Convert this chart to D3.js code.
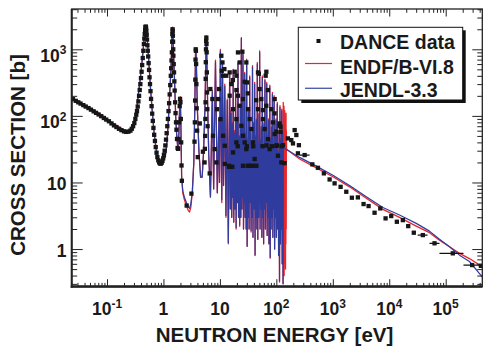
<!DOCTYPE html>
<html><head><meta charset="utf-8">
<script src="https://cdn.jsdelivr.net/npm/d3@7"></script>
<style>
body{margin:0;background:#fff}
svg{display:block}
text{font-family:"Liberation Sans",Arial,Helvetica,sans-serif;font-weight:bold;fill:#1a1a1a}
</style>
</head><body>
<svg id="chart" width="483" height="347"></svg>
<script>
// ---------- evaluated cross sections (ENDF/B-VI.8, JENDL-3.3), low-energy part ----------
const lowE = [0.024,0.03,0.04,0.05,0.065,0.08,0.1,0.125,0.15,0.18,
  0.21,0.235,0.26,0.285,0.31,0.335,0.36,0.385,0.41,0.435,
  0.455,0.47,0.485,0.5,0.515,0.535,0.56,0.59,0.63,0.68,
  0.74,0.8,0.87,0.93,1.0,1.07,1.13,1.19,1.25,1.3,
  1.35,1.39,1.42,1.445,1.47,1.5,1.54,1.59,1.65,1.72,
  1.8,1.88,1.94,1.98,2.03,2.1,2.2,2.35,2.55,2.75,
  2.9,3.05,3.25,3.45,3.6,3.7,3.76,3.85,4.0,4.25,
  4.55,4.85,5.15,5.45,5.65,5.75,5.85,6.05,6.35,6.8];
const endfLow = [187,167,146,131,115,104,89,79,71,65,
  60.5,59,60,67,84,118,215,340,560,950,
  1500,2000,2250,2000,1500,950,520,260,125,58,
  32,23,19.5,19.8,22,24,33,60,125,250,
  450,900,1600,2150,1850,1100,560,260,95,50,
  32,55,150,195,90,12,7,5.5,4.5,3.8,
  3.6,4.2,7,20,150,900,1050,500,120,30,
  12,12,30,150,800,1600,900,170,25,6];
const jendlLow = [181,162,142,127,112,101,87,77,69.5,63.5,
  59,57.5,59,66,83,116,210,335,550,930,
  1450,1930,2150,1930,1450,930,510,255,123,58,
  32,23,19.5,19.8,22,24,33,60,122,245,
  440,880,1550,2080,1800,1080,550,255,95,50,
  33,55,145,188,88,12.5,7.5,6,5,4.3,
  4.1,4.7,7.5,20,145,870,1010,490,118,30,
  12,12,30,145,780,1550,880,168,25,6.2];

// ---------- resolved resonance region (peak / valley sequence) ----------
const resE = [7.35,7.75,8.35,9.0,9.6,9.85,10.2,10.8,11.1,11.6,
  12.2,12.8,13.5,14.1,14.9,15.3,15.8,16.2,16.7,17.0,
  17.2,17.6,18.0,18.5,19.0,19.4,19.9,20.4,20.9,21.4,
  21.9,22.4,23.0,23.5,24.0,24.5,25.0,25.3,25.6,26.2,
  26.8,27.2,27.5,28.0,28.6,29.2,29.8,30.4,31.0,31.5,
  32.2,32.9,33.7,34.4,35.0,35.7,36.4,37.1,37.8,38.6,
  39.3,40.0,40.6,40.9,41.3,42.0,42.8,43.6,44.4,45.2,
  46.0,46.9,47.7,48.5,49.4,50.0,50.6,51.5,52.4,53.4,
  54.4,55.4,56.4,57.4,58.4,59.5,60.6,61.7,62.8,64.0,
  65.2,66.4,67.6,68.8,70.0,71.3,72.6,73.9,75.2,75.8,
  76.5,77.9,79.3,80.7,82.2,83.7,85.2,86.7,88.3,89.9,
  91.5,93.2,94.9,96.6,98.4,100.2,102.0,103.0,103.9,105.8,
  107.7,109.7,111.7,113.8,115.9,118.0,120.2,122.4,124.6,126.9,
  129.2,131.5];
const resENDF = [240,8,690,7,90,10,1000,5,630,9,
  300,3,180,1.2,450,4,120,3,80,6,
  500,2.5,60,4,225,2,90,5,640,3,
  50,2.2,140,3,1450,4,40,6,950,2,
  70,5,450,3,55,2,713,1.1,45,3,
  120,2,400,5,60,1.8,35,3,570,1.5,
  80,4,30,6,318,0.8,50,3,90,2,
  635,1.4,40,3,110,5,950,2,45,4,
  70,1.5,400,3,35,1.2,80,4,357,2,
  40,5,318,1.6,50,3,90,1.2,30,5,
  290,0.73,45,2,70,3,225,1.5,35,4,
  201,1.0,50,3,90,1.5,40,4,159,2,
  30,0.8,60,0.32,142,1.2,45,2,126,0.6,
  60,0.3];
const resJENDL = [225,8,650,7,85,10,940,5.5,600,9,
  280,3.2,170,1.25,420,4,110,3,75,6,
  470,2.6,55,4,210,2.1,85,5,600,3,
  48,2.3,130,3,1500,4,38,6,900,2,
  66,5,430,3,52,2,680,1.1,42,3,
  112,2,380,5,56,1.9,33,3,540,1.5,
  75,4,28,6,300,0.82,47,3,85,2,
  600,1.4,38,3,104,5,900,2,42,4,
  66,1.5,380,3,33,1.2,75,4,340,2,
  38,5,300,1.6,47,3,85,1.2,28,5,
  275,0.75,42,2,66,3,212,1.5,33,4,
  190,1.0,47,3,85,1.5,38,4,150,2,
  28,0.8,56,0.33,134,1.2,42,2,118,0.6,
  56,0.3];

// ENDF resonances extend a little further
const endfBandE  = [132.5,133.5,134.5,135.5,136.5,137.5,138.5,139.5,140.5,141.5,142.5,143.5,144.5,145.5,146.5,147.5,148.5,149.5,150.5];
const endfBandXS = [160,0.5,90,0.8,140,0.4,60,1.0,120,0.6,50,0.9,100,0.5,70,1.2,110,2,60];

// ---------- unresolved / smooth region ----------
const endfSmoothE  = [152,258,511,1005,1982,3917,7710,15200,30060,51650,77600,116700,175400,263700,447500];
const endfSmoothXS = [31.5,22.5,16.6,12.2,8.6,5.8,3.94,2.99,2.21,1.76,1.36,1.08,0.86,0.72,0.54];
const jendlSmoothE  = [133,258,511,1005,1982,3917,7710,15200,30060,51650,77600,116700,175400,263700,447500];
const jendlSmoothXS = [33.5,23.8,17.6,12.8,9.0,6.1,4.2,3.24,2.43,1.86,1.40,1.08,0.81,0.65,0.38];

// ---------- DANCE data ----------
const danceLowE = [0.025,0.028,0.031,0.034,0.038,0.042,0.047,0.052,0.058,0.064,
  0.071,0.079,0.088,0.097,0.108,0.12,0.133,0.147,0.163,0.18,
  0.2,0.22,0.24,0.26,0.275,0.29,0.305,0.318,0.33,0.34,
  0.35,0.36,0.37,0.38,0.39,0.4,0.41,0.42,0.43,0.44,
  0.45,0.458,0.466,0.474,0.48,0.486,0.492,0.498,0.505,0.512,
  0.52,0.528,0.537,0.546,0.556,0.567,0.578,0.59,0.603,0.617,
  0.632,0.648,0.665,0.685,0.707,0.73,0.755,0.78,0.81,0.84,
  0.87,0.9,0.93,0.96,0.99,1.02,1.05,1.08,1.11,1.14,
  1.17,1.2,1.23,1.26,1.29,1.32,1.35,1.37,1.39,1.41,
  1.43,1.44,1.45,1.46,1.47,1.48,1.49,1.5,1.52,1.54,
  1.56,1.58,1.61,1.64,1.67,1.7,1.74,1.78,1.82,1.86,
  1.9,1.94,1.97,2.0,2.03,2.06,2.09,2.12,2.58,3.13,
  3.55,3.6,3.64,3.67,3.7,3.73,3.76,3.79,3.83,3.88,
  3.95,4.05,4.4,5.0,5.35,5.42,5.48,5.53,5.57,5.6,
  5.63,5.67,5.71,5.75,5.79,5.83,5.87,5.92,5.98,6.05,
  6.6];
const danceLowXS = [178,168,160,153,145,138,131,124,117,111,
  105,99,93,88,83,77,72,68,64,61,
  58.5,57.5,58,60,64,70,78,90,104,118,
  138,165,200,245,300,370,460,580,740,950,
  1200,1450,1700,1950,2150,2200,2100,1900,1650,1400,
  1150,950,780,620,490,380,300,235,180,140,
  108,84,66,52,42,34,28,24,21.5,20,
  19.3,19.2,19.8,21,23,26,30,36,44,55,
  70,90,118,155,210,290,400,520,680,900,
  1300,1700,2000,1900,1600,1300,1000,800,600,450,
  330,240,160,110,80,62,45,33,32,45,
  80,140,180,160,90,40,18,10.6,4.5,6.8,
  41,80,170,350,700,1000,950,600,300,130,
  60,24,77,29,20,32,50,90,160,360,
  640,1000,1340,1500,1200,900,450,225,126,70,
  13.7];
const danceResE = [6.78,7.36,7.56,8.09,8.66,8.9,9.27,9.64,10.2,10.6,
  10.8,11.1,11.4,11.4,12.0,12.2,12.2,13.0,14.5,14.9,
  14.9,16.0,17.1,17.1,17.0,19.6,19.6,19.6,19.6,20.9,
  20.9,20.7,22.4,22.4,24.0,25.6,25.6,25.6,27.5,27.5,
  29.4,29.4,30.2,30.0,31.3,31.5,31.0,33.7,33.7,36.1,
  38.5,38.0,39.0,41.3,44.2,44.0,47.3,47.3,50.6,54.2,
  57.0,57.9,58.0,62.1,64.7,66.4,66.5,67.0,71.0,71.0,
  76.1,81.5,83.0,87.1,93.0,93.3,93.3,99.9,100.0,102.0,
  106.7,114.4,114.0,122.5,124.0,16.6,14.5,25.0,18.3,49.0];
const danceResXS = [253,179,50.3,31.7,20,126,179,253,89.5,800,
  476,635,401,50.3,504,35.6,19,401,17.8,450,
  201,300,126,28.3,345,401,89.5,40,244,898,
  201,35,635,142,71.1,50.3,17.8,179,40,325,
  635,31.7,318,35,218,126,17.8,89.5,17.8,63.4,
  40,17.8,35,22.5,17.8,172,450,126,253,179,
  35,89.5,122,63.4,401,142,460,36,44.8,244,
  31.7,126,35,79.8,109,53.3,179,35.6,58,36,
  25.2,71.1,77,20.0,35,17.2,17.2,920,460,430];
const danceHighE = [119,119,131,140,160,184,197,211,226,241,
  251,317,434,545,695,878,1076,1374,1734,2178,
  2781,3508,4303,5495,6934,8610,10850,13640,17410,21690,
  27230,39350,63390,133600,294400,420000];
const danceHighXS = [57.6,68.6,36.3,19.5,45.9,43.3,38.6,61.2,51.6,27.4,
  36.3,25.8,18.7,16.6,13.7,11.1,9.7,8.6,7.25,5.9,
  5.97,4.74,4.42,3.51,4.08,2.89,3.13,2.57,2.72,2.21,
  1.76,1.62,1.22,0.862,0.575,0.56];
// horizontal (energy-bin) error bars
const errXS = [25.8,1.62,1.22,0.862,0.575];
const errLo = [261,31900,51640,77600,206500];
const errHi = [388,47640,77600,206500,413000];

// ---------- axes ----------
const xMajor = [0.1,1,10,100,1e3,1e4,1e5];
const xBase  = ["10","1","10","10","10","10","10"];
const xExp   = ["-1","","","2","3","4","5"];
const yMajor = [1,10,100,1000];
const yBase  = ["1","10","10","10"];
const yExp   = ["","","2","3"];

const legendLabels = ["DANCE data","ENDF/B-VI.8","JENDL-3.3"];
const RED = "#e8262b", BLUE = "#2f3c9e";

// ---------- drawing ----------
const svg = d3.select("#chart");
const L = 71.7, T = 9, R = 482.3, B = 286.7;
const x = d3.scaleLog().domain([0.0237, 4.45e5]).range([L, R]);
const y = d3.scaleLog().domain([0.272, 4030]).range([B, T]);

function minors(lo, hi) {
  const out = [];
  for (let k = -3; k <= 6; k++) for (let m = 2; m <= 9; m++) {
    const v = m * Math.pow(10, k);
    if (v > lo && v < hi) out.push(v);
  }
  return out;
}
const xMinor = minors(0.0237, 4.45e5), yMinor = minors(0.272, 4030);

svg.append("defs").append("clipPath").attr("id","clip")
  .append("rect").attr("x",L).attr("y",T).attr("width",R-L).attr("height",B-T);

const zip = (a, b) => a.map((e, i) => [e, b[i]]);
const endfData = zip(lowE, endfLow).concat(zip(resE, resENDF), zip(endfBandE, endfBandXS), zip(endfSmoothE, endfSmoothXS));
const jendlData = zip(lowE, jendlLow).concat(zip(resE, resJENDL), zip(jendlSmoothE, jendlSmoothXS));
const line = d3.line().x(d => x(d[0])).y(d => y(d[1]));

const plot = svg.append("g").attr("clip-path","url(#clip)");
// faint red floor line along the bottom
plot.append("line").attr("x1",L).attr("x2",R).attr("y1",B-1.2).attr("y2",B-1.2)
  .attr("stroke",RED).attr("stroke-width",1);
plot.append("path").datum(endfData).attr("d",line).attr("fill","none")
  .attr("stroke",RED).attr("stroke-width",1.3).attr("stroke-linejoin","round");
plot.append("path").datum(jendlData).attr("d",line).attr("fill","none")
  .attr("stroke",BLUE).attr("stroke-width",1.2).attr("stroke-linejoin","round");

// data
const pts = zip(danceLowE, danceLowXS).concat(zip(danceResE, danceResXS), zip(danceHighE, danceHighXS));
plot.selectAll("line.err").data(errXS).enter().append("line").attr("class","err")
  .attr("x1",(d,i)=>x(errLo[i])).attr("x2",(d,i)=>x(errHi[i]))
  .attr("y1",d=>y(d)).attr("y2",d=>y(d)).attr("stroke","#111").attr("stroke-width",1.2);
const S = 4.3;
plot.selectAll("rect.pt").data(pts).enter().append("rect").attr("class","pt")
  .attr("x",d=>x(d[0])-S/2).attr("y",d=>y(d[1])-S/2).attr("width",S).attr("height",S)
  .attr("fill","#161616");

// axes (ticks only)
function ax(gen, tr, vals, size) {
  const g = svg.append("g").attr("transform", tr)
    .call(gen.tickValues(vals).tickSize(size).tickFormat(""));
  g.select(".domain").remove();
  g.selectAll("line").attr("stroke","#222").attr("stroke-width",1);
}
ax(d3.axisBottom(x), `translate(0,${B})`, xMajor, -7.5);
ax(d3.axisBottom(x), `translate(0,${B})`, xMinor, -3.8);
ax(d3.axisTop(x), `translate(0,${T})`, xMajor, -7.5);
ax(d3.axisTop(x), `translate(0,${T})`, xMinor, -3.8);
ax(d3.axisLeft(y), `translate(${L},0)`, yMajor, -11);
ax(d3.axisLeft(y), `translate(${L},0)`, yMinor, -5.5);
ax(d3.axisRight(y), `translate(${R},0)`, yMajor, -10);
ax(d3.axisRight(y), `translate(${R},0)`, yMinor, -5);

// frame
svg.append("rect").attr("x",L).attr("y",T).attr("width",R-L).attr("height",B-T)
  .attr("fill","none").attr("stroke","#222").attr("stroke-width",1.3);
svg.append("line").attr("x1",L).attr("x2",L).attr("y1",T).attr("y2",B+1).attr("stroke","#222").attr("stroke-width",2);
svg.append("line").attr("x1",L-1).attr("x2",R).attr("y1",B).attr("y2",B).attr("stroke","#222").attr("stroke-width",2);

// tick labels
xMajor.forEach((v, i) => {
  const t = svg.append("text").attr("x", x(v)).attr("y", 315).attr("text-anchor","middle").style("font-size","17.5px");
  t.append("tspan").text(xBase[i]);
  if (xExp[i]) t.append("tspan").attr("dy",-7.5).style("font-size","12px").text(xExp[i]);
});
yMajor.forEach((v, i) => {
  const t = svg.append("text").attr("x", 66.5).attr("y", y(v) + 7.5 + (yExp[i] ? 5 : 0))
    .attr("text-anchor","end").style("font-size","17.5px");
  t.append("tspan").text(yBase[i]);
  if (yExp[i]) t.append("tspan").attr("dy",-7.5).style("font-size","12px").text(yExp[i]);
});

// axis titles
svg.append("text").attr("x",274.5).attr("y",341.5).attr("text-anchor","middle")
  .style("font-size","20.5px").text("NEUTRON ENERGY [eV]");
svg.append("text").attr("transform","translate(25,155) rotate(-90)").attr("text-anchor","middle")
  .style("font-size","20.5px").text("CROSS SECTION [b]");

// legend
const lg = svg.append("g");
lg.append("rect").attr("x",301.3).attr("y",30.3).attr("width",164.4).attr("height",72.7).attr("fill","#111");
lg.append("rect").attr("x",298.3).attr("y",27.3).attr("width",164.4).attr("height",72.7)
  .attr("fill","#fff").attr("stroke","#111").attr("stroke-width",1);
lg.append("rect").attr("x",318.5-2).attr("y",41-2).attr("width",4).attr("height",4).attr("fill","#111");
lg.append("line").attr("x1",305).attr("x2",332).attr("y1",63.5).attr("y2",63.5).attr("stroke",RED).attr("stroke-width",1.2);
lg.append("line").attr("x1",305).attr("x2",332).attr("y1",88.3).attr("y2",88.3).attr("stroke","#5060b0").attr("stroke-width",1.4);
[49, 74, 96.5].forEach((yy, i) => {
  lg.append("text").attr("x",340).attr("y",yy).style("font-size","19.5px").text(legendLabels[i]);
});
</script>
</body></html>
